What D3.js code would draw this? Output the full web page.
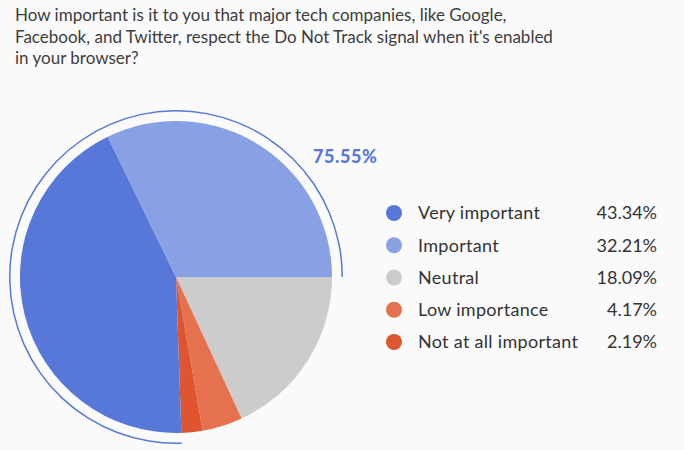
<!DOCTYPE html>
<html>
<head>
<meta charset="utf-8">
<script src="https://cdn.jsdelivr.net/npm/d3@7"></script>
<style>
  body { margin: 0; background: #fafafa; }
  svg { display: block; font-family: Lato, "Open Sans", sans-serif; }
</style>
</head>
<body>
<script>
// Chart data
const titleLines = [
  "How important is it to you that major tech companies, like Google,",
  "Facebook, and Twitter, respect the Do Not Track signal when it's enabled",
  "in your browser?"
];
const categories = ["Very important", "Important", "Neutral", "Low importance", "Not at all important"];
const values = [43.34, 32.21, 18.09, 4.17, 2.19];
const colors = ["#5778d9", "#88a1e4", "#cccccc", "#e6714f", "#de5530"];
// slices drawn clockwise from 3 o'clock in this order
const drawOrder = ["Neutral", "Low importance", "Not at all important", "Very important", "Important"];
const highlight = ["Very important", "Important"];
const highlightLabel = "75.55%";

const w = 684;
const h = 450;
const cx = 176, cy = 277, r = 156;

const svg = d3.select('body')
  .append('svg')
  .attr('width', w)
  .attr('height', h);

// Title
svg.append('g')
  .selectAll('text')
  .data(titleLines)
  .enter()
  .append('text')
  .attr('x', 15)
  .attr('y', (d, i) => 21 + i * 21.5)
  .attr('fill', '#3d3d3d')
  .attr('font-size', 17)
  .text(d => d);

const color = d3.scaleOrdinal().domain(categories).range(colors);

const data = drawOrder.map(c => ({ name: c, value: values[categories.indexOf(c)] }));

const pie = d3.pie()
  .value(d => d.value)
  .sort(null)
  .startAngle(Math.PI / 2)
  .endAngle(Math.PI / 2 + 2 * Math.PI);

const arcs = pie(data);
const arc = d3.arc().innerRadius(0).outerRadius(r);

const g = svg.append('g').attr('transform', `translate(${cx},${cy})`);

g.selectAll('path')
  .data(arcs)
  .enter()
  .append('path')
  .attr('d', arc)
  .attr('fill', d => color(d.data.name));

// Outline arc around the highlighted slices
const hl = arcs.filter(d => highlight.includes(d.data.name));
const hlStart = d3.min(hl, d => d.startAngle);
const hlEnd = d3.max(hl, d => d.endAngle);
g.append('path')
  .attr('d', d3.arc().innerRadius(165.5).outerRadius(167)({ startAngle: hlStart, endAngle: hlEnd }))
  .attr('fill', '#5778d9');

svg.append('text')
  .attr('x', 313)
  .attr('y', 163)
  .attr('fill', '#5778d9')
  .attr('font-size', 18)
  .attr('font-weight', 900)
  .attr('letter-spacing', 0.6)
  .text(highlightLabel);

// Legend
const y = d3.scalePoint().domain(categories).range([213, 342]);
const legend = svg.append('g')
  .selectAll('g')
  .data(categories)
  .enter()
  .append('g')
  .attr('transform', d => `translate(0,${y(d)})`);

legend.append('circle')
  .attr('cx', 394)
  .attr('r', 8)
  .attr('fill', d => color(d));

legend.append('text')
  .attr('x', 418)
  .attr('dy', '0.35em')
  .attr('font-size', 18)
  .attr('letter-spacing', 0.3)
  .attr('fill', '#333')
  .text(d => d);

legend.append('text')
  .attr('x', 657)
  .attr('dy', '0.35em')
  .attr('text-anchor', 'end')
  .attr('font-size', 18)
  .attr('fill', '#333')
  .text((d, i) => values[i].toFixed(2) + '%');
</script>
</body>
</html>
